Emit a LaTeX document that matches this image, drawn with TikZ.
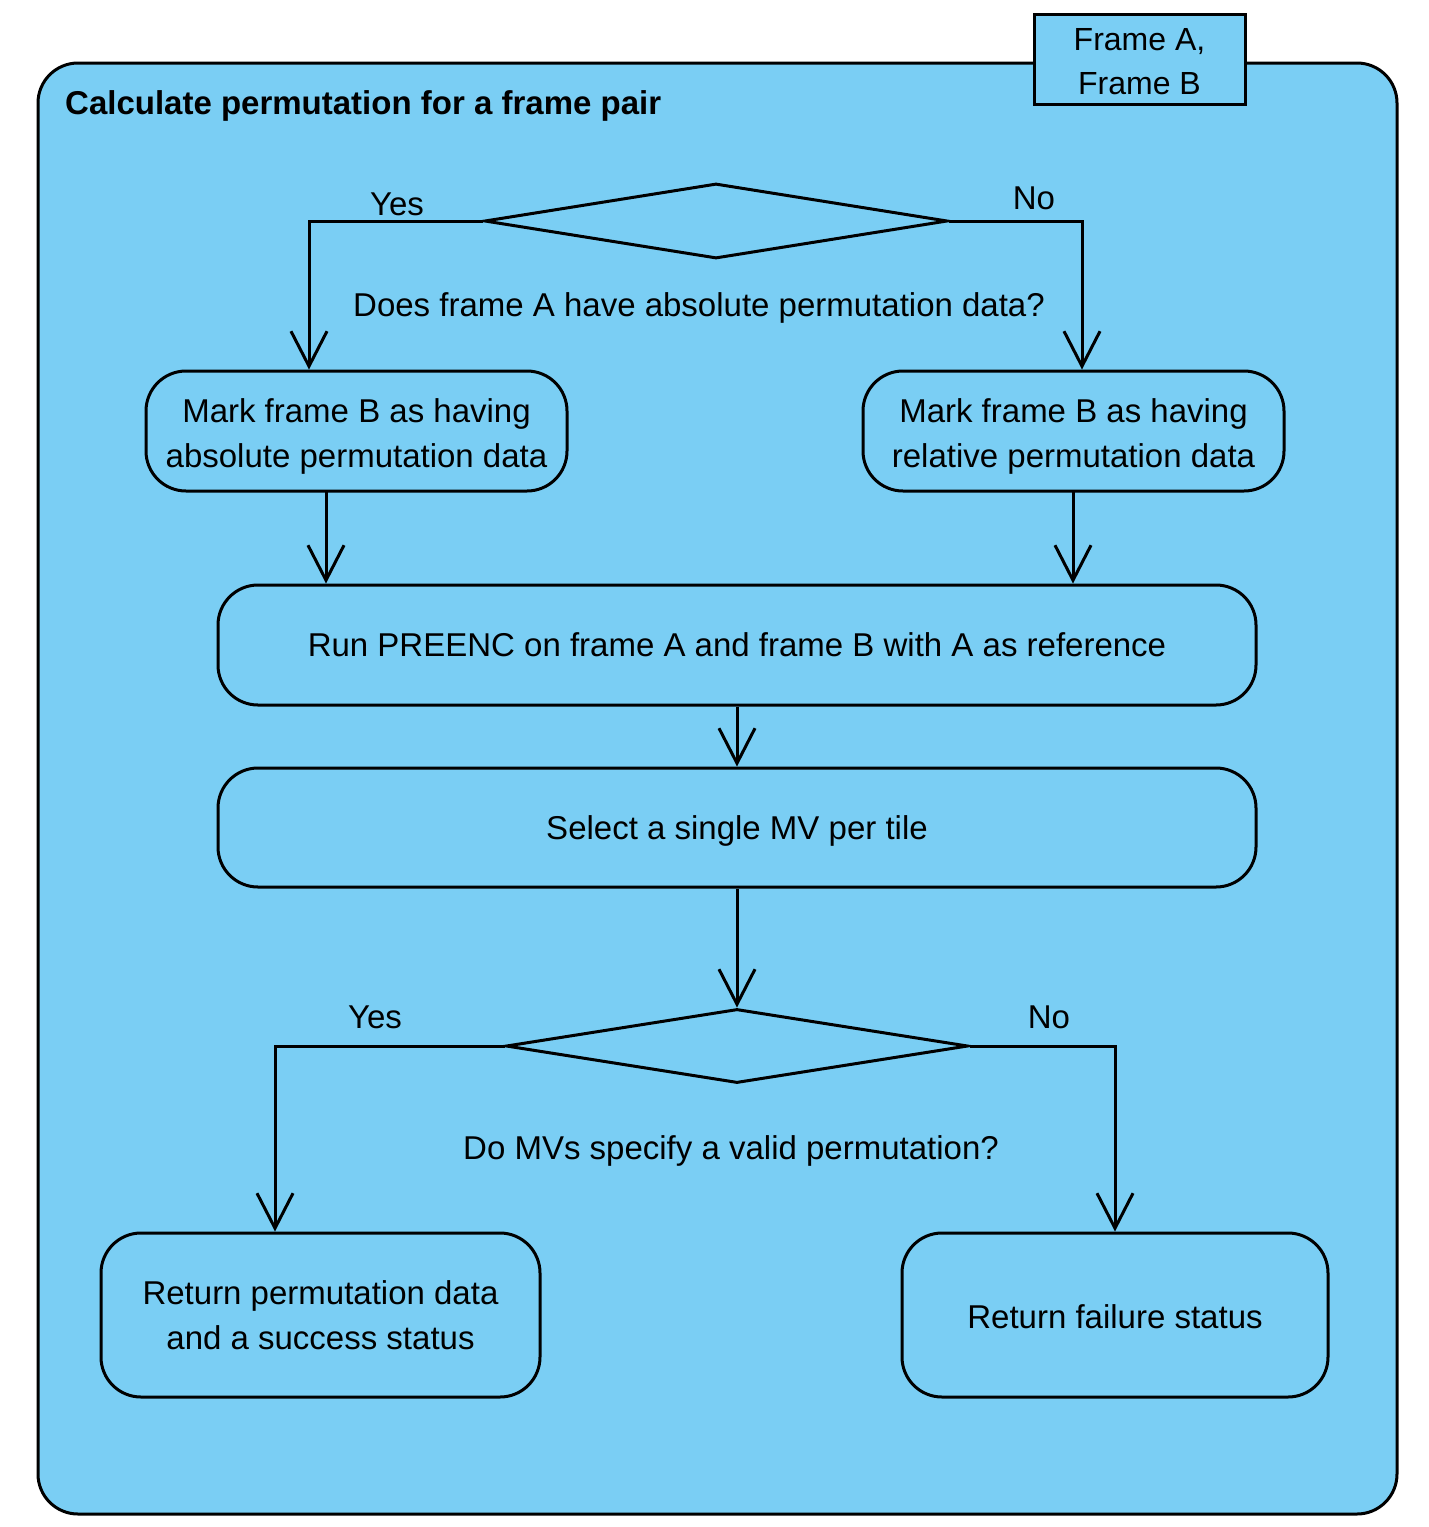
\documentclass[tikz,border=0pt]{standalone}
\usepackage{fontspec}
\setmainfont{Liberation Sans}
\usetikzlibrary{shapes.geometric,arrows.meta}
\definecolor{umlblue}{RGB}{122,206,244}
% enlarge the height of a text line, so that the node text sits lower
\newcommand{\dn}[2][4pt]{\raisebox{0pt}[\dimexpr\height+#1\relax][\depth]{#2}}
\tikzset{
  lw/.style={line width=3pt},
  actbox/.style={draw,lw,fill=umlblue,rounded corners=40pt,inner sep=0pt,align=center,font=\fontsize{33}{45}\selectfont},
  decis/.style={draw,lw,fill=umlblue,diamond,inner sep=0pt},
  lbl/.style={inner sep=0pt,font=\fontsize{33}{45}\selectfont,align=center},
  arr/.style={lw,-{Straight Barb[length=35pt,width=36pt,line width=3pt]}},
  conn/.style={lw}
}
\begin{document}
\begin{tikzpicture}[x=1pt,y=-1pt]
\useasboundingbox (0,0) rectangle (1428,1527);
% container
\node[draw,lw,fill=umlblue,rounded corners=40pt,minimum width=1359pt,minimum height=1451pt,inner sep=0pt] (cont) at (717.5,788.5) {};
\node[draw,lw,fill=umlblue,minimum width=211pt,minimum height=90pt,inner sep=0pt,align=center,font=\fontsize{32}{44}\selectfont] (frames) at (1139.5,59) {\dn[6pt]{Frame A,}\\Frame B};
\node[anchor=west,inner sep=0pt,font=\fontsize{33}{38}\bfseries\selectfont] (title) at (65,106) {Calculate permutation for a frame pair};

% decisions
\node[decis,minimum width=463pt,minimum height=75pt] (d1) at (716,221) {};
\node[decis,minimum width=462pt,minimum height=74pt] (d2) at (737,1046) {};

% actions
\node[actbox,minimum width=421pt,minimum height=120pt] (l1) at (356.5,431) {\dn[10pt]{Mark frame B as having}\\absolute permutation data};
\node[actbox,minimum width=421pt,minimum height=120pt] (r1) at (1073.5,431) {\dn[10pt]{Mark frame B as having}\\relative permutation data};
\node[actbox,minimum width=1038pt,minimum height=120pt] (pre) at (737,645) {Run PREENC on frame A and frame B with A as reference};
\node[actbox,minimum width=1038pt,minimum height=119pt] (sel) at (737,827.5) {\dn[6pt]{Select a single MV per tile}};
\node[actbox,minimum width=439pt,minimum height=164pt] (l2) at (320.5,1315) {Return permutation data\\and a success status};
\node[actbox,minimum width=426pt,minimum height=164pt] (r2) at (1115,1315) {\dn[4pt]{Return failure status}};

% labels
\node[lbl] (q1) at (699,308) {Does frame A have absolute permutation data?};
\node[lbl] (q2) at (731,1151) {Do MVs specify a valid permutation?};
\node[lbl] (y1l) at (397,204) {Yes};
\node[lbl] (n1l) at (1034,198) {No};
\node[lbl] (y2l) at (375,1017) {Yes};
\node[lbl] (n2l) at (1049,1017) {No};

% connectors
\coordinate (y1) at (309,221);
\coordinate (n1) at (1082,221);
\coordinate (y2) at (275,1046);
\coordinate (n2) at (1115,1046);
\coordinate (a1) at (326,491);
\coordinate (a2) at (1073,491);
\draw[arr] (d1.west) -- (y1) -- (y1 |- l1.north);
\draw[arr] (d1.east) -- (n1) -- (n1 |- r1.north);
\draw[arr] (a1) -- (a1 |- pre.north);
\draw[arr] (a2) -- (a2 |- pre.north);
\draw[arr] (pre.south) -- (sel.north);
\draw[arr] (sel.south) -- (d2.north);
\draw[arr] (d2.west) -- (y2) -- (y2 |- l2.north);
\draw[arr] (d2.east) -- (n2) -- (n2 |- r2.north);
\end{tikzpicture}
\end{document}
